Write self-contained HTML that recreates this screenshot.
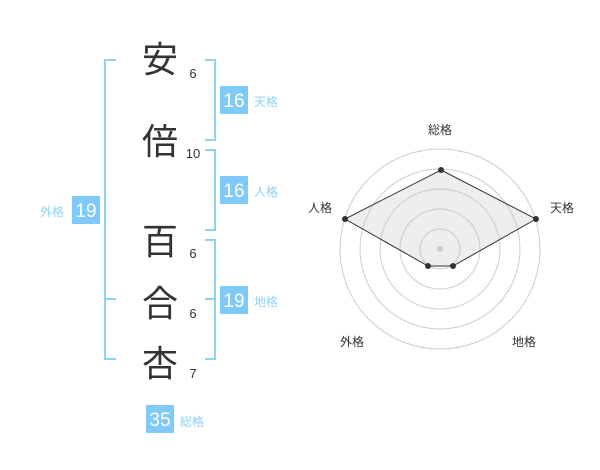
<!DOCTYPE html>
<html><head><meta charset="utf-8"><style>
body{margin:0;width:600px;height:470px;background:#fff;overflow:hidden;font-family:"Liberation Sans","Noto Sans CJK JP",sans-serif}
</style></head><body>
<svg width="600" height="470" xmlns="http://www.w3.org/2000/svg" style="position:absolute;left:0;top:0">
<g fill="none" stroke="#8fd0f8" stroke-width="2">
<path d="M116,60H105V359H116M105,299H116"/>
<path d="M205,60H215V140H205"/>
<path d="M205,150H215V230H205"/>
<path d="M205,240H215V359H205M205,299H215"/>
</g>
<g font-family="'Noto Sans CJK JP',sans-serif" font-size="36" fill="#333" text-anchor="middle">
<text x="160" y="72">安</text><text x="160" y="154">倍</text><text x="160" y="254">百</text><text x="160" y="316">合</text><text x="160" y="376">杏</text>
</g>
<g font-size="13" fill="#333" text-anchor="middle">
<text x="193" y="78">6</text><text x="193" y="158">10</text><text x="193" y="258">6</text><text x="193" y="318">6</text><text x="193" y="378">7</text>
</g>
<g fill="#7fcaf8"><rect x="220" y="86" width="28" height="28"/><rect x="220" y="176" width="28" height="28"/><rect x="220" y="286" width="28" height="28"/><rect x="72" y="196" width="28" height="28"/><rect x="146" y="405" width="28" height="28"/></g>
<g font-size="19" fill="#fff" text-anchor="middle">
<text x="234" y="107">16</text><text x="234" y="197">16</text><text x="234" y="307">19</text><text x="86" y="217">19</text><text x="160" y="426">35</text>
</g>
<g font-size="12" fill="#8fd0f8" font-family="'Noto Sans CJK JP',sans-serif">
<text x="254" y="106">天格</text><text x="254" y="196">人格</text><text x="254" y="306">地格</text><text x="40" y="216">外格</text><text x="180" y="426">総格</text>
</g>
<g fill="none" stroke="#ccc" stroke-width="1">
<circle cx="440" cy="249" r="20"/><circle cx="440" cy="249" r="40"/><circle cx="440" cy="249" r="60"/><circle cx="440" cy="249" r="80"/><circle cx="440" cy="249" r="100"/>
</g>
<circle cx="440" cy="249" r="3" fill="#ccc"/>
<polygon points="441,170 536,219 453,266 428,266 345,219" fill="rgba(200,200,200,0.3)" stroke="#333" stroke-width="1"/>
<g fill="#333"><circle cx="441" cy="170" r="3"/><circle cx="536" cy="219" r="3"/><circle cx="453" cy="266" r="3"/><circle cx="428" cy="266" r="3"/><circle cx="345" cy="219" r="3"/></g>
<g font-size="12" fill="#333" text-anchor="middle" font-family="'Noto Sans CJK JP',sans-serif">
<text x="440" y="134">総格</text><text x="562" y="212">天格</text><text x="320" y="212">人格</text><text x="352" y="346">外格</text><text x="524" y="346">地格</text>
</g>
</svg>
</body></html>
